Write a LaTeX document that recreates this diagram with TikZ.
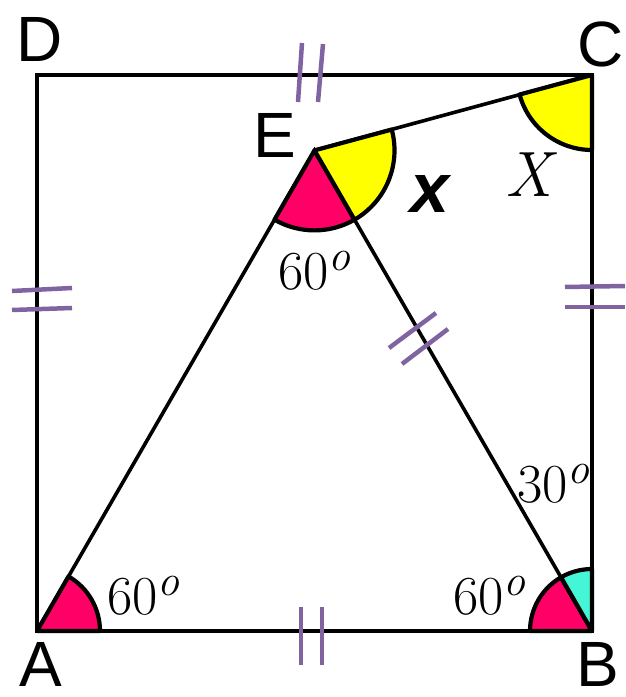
\documentclass[tikz,border=0pt]{standalone}
\usepackage{fontspec}
\newfontfamily\labfont{Liberation Sans}
\definecolor{pinkfill}{HTML}{FF0066}
\definecolor{yelfill}{HTML}{FFFF00}
\definecolor{cyanfill}{HTML}{44F5D6}
\definecolor{tickcol}{HTML}{8064A2}
\tikzset{
  edge/.style={line width=3.6pt, black},
  sector/.style={line width=4.2pt, black, line join=round},
  tickmark/.style={line width=4.5pt, tickcol},
  vlabel/.style={inner sep=0pt, font=\labfont\fontsize{64}{64}\selectfont},
  deglabel/.style={inner sep=0pt, anchor=base west, font=\fontsize{55}{55}\selectfont},
}
\newcommand{\degsup}{\raisebox{19pt}{\fontsize{44}{44}\selectfont\itshape o}}
\begin{document}
\begin{tikzpicture}[x=1pt,y=1pt]
\useasboundingbox (0,0) rectangle (625,697);
\coordinate (A) at (37,66);
\coordinate (B) at (592,66);
\coordinate (C) at (592,622);
\coordinate (D) at (37,622);
\coordinate (E) at (314.5,546.6);
% edges
\draw[edge, line join=miter] (A) -- (B) -- (C) -- (D) -- cycle;
\draw[edge] (A) -- (E) -- (B);
\draw[edge] (E) -- (C);
% sectors
\filldraw[sector, fill=pinkfill] (A) -- ++(0:63) arc[start angle=0, end angle=60, radius=63] -- cycle;
\filldraw[sector, fill=pinkfill] (B) -- ++(120:62) arc[start angle=120, end angle=180, radius=62] -- cycle;
\filldraw[sector, fill=cyanfill] (B) -- ++(90:62) arc[start angle=90, end angle=120, radius=62] -- cycle;
\filldraw[sector, fill=pinkfill] (E) -- ++(240:80) arc[start angle=240, end angle=300, radius=80] -- cycle;
\filldraw[sector, fill=yelfill] (E) -- ++(-60:80) arc[start angle=-60, end angle=15.1, radius=80] -- cycle;
\filldraw[sector, fill=yelfill] (C) -- ++(195.1:75) arc[start angle=195.1, end angle=270, radius=75] -- cycle;
% tick marks
\draw[tickmark] (298,595) -- (302,654);
\draw[tickmark] (318,595) -- (323,653);
\draw[tickmark] (12,406) -- (72,409);
\draw[tickmark] (12,387) -- (72,389);
\draw[tickmark] (565,410) -- (625,411);
\draw[tickmark] (565,390) -- (625,390);
\draw[tickmark] (301,90) -- (301,32);
\draw[tickmark] (322,90) -- (322,32);
\draw[tickmark] (389,349) -- (436,384);
\draw[tickmark] (402,333) -- (448,368);
% vertex labels
\node[vlabel] (lA) at (41,33) {A};
\node[vlabel] (lB) at (598,33) {B};
\node[vlabel] (lC) at (601,653) {C};
\node[vlabel] (lD) at (40,658) {D};
\node[vlabel] (lE) at (275,562) {E};
% angle labels
\node[deglabel] (dA) at (107,82) {60\degsup};
\node[deglabel] (dB) at (453,82) {60\degsup};
\node[deglabel] (dE) at (278,407) {60\degsup};
\node[deglabel] (dB2) at (517,194) {30\degsup};
\node[inner sep=0pt, font=\labfont\bfseries\itshape\fontsize{70}{70}\selectfont] (lx) at (430,503) {x};
\node[inner sep=0pt, font=\itshape\fontsize{64}{64}\selectfont] (lX) at (529,522) {X};
\end{tikzpicture}
\end{document}
